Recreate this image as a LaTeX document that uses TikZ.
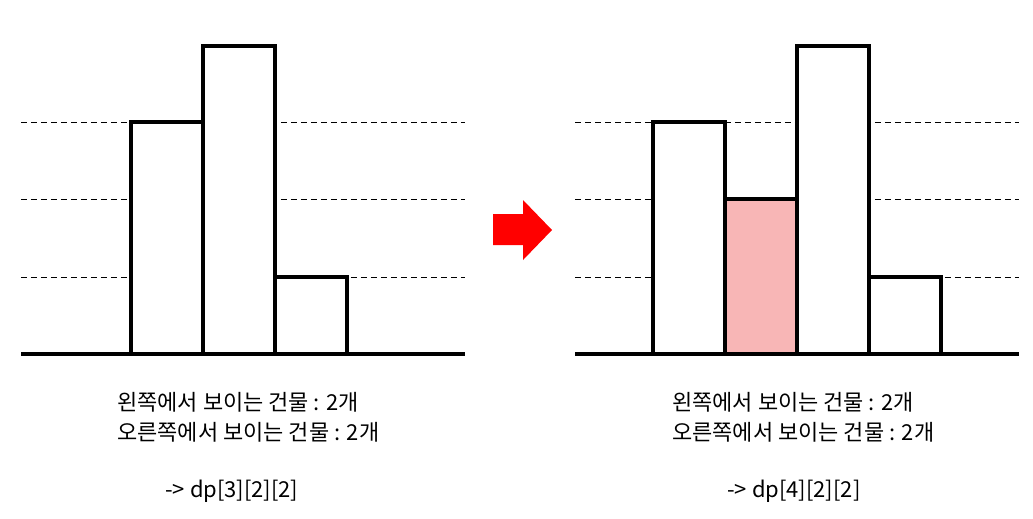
\documentclass[tikz,border=0pt]{standalone}
\usepackage{fontspec}
\setmainfont{Noto Sans CJK KR}
\definecolor{pinkfill}{HTML}{F8B6B6}
\tikzset{
  bldg/.style={draw=black,line width=2.3pt,fill=white},
  guide/.style={dash pattern=on 0.12cm off 0.08cm,line width=0.5pt},
  ground/.style={line width=2.6pt},
  caption/.style={anchor=west,inner sep=0pt,align=left,font=\fontsize{12.5}{17}\selectfont},
}
\begin{document}
\begin{tikzpicture}[x=0.02cm,y=-0.02cm]
\useasboundingbox (0,0) rectangle (1033,518);
% left skyline
\foreach \y in {122,199,277}\draw[guide] (21,\y) -- (465,\y);
\draw[bldg] (131,354) rectangle (203,122);
\draw[bldg] (203,354) rectangle (275,46);
\draw[bldg] (275,354) rectangle (347,277);
\draw[ground] (21,354) -- (465,354);
\node[caption] (lview) at (117,417) {왼쪽에서 보이는 건물 : 2개\\오른쪽에서 보이는 건물 : 2개};
\node[caption] (lstate) at (165,491) {-> dp[3][2][2]};
% arrow
\fill[red] (493,214) -- (523,214) -- (523,200) -- (552,230) -- (523,260) -- (523,245) -- (493,245) -- cycle;
% right skyline
\foreach \y in {122,199,277}\draw[guide] (575,\y) -- (1019,\y);
\draw[bldg] (653,354) rectangle (725,122);
\draw[bldg,fill=pinkfill] (725,354) rectangle (797,199);
\draw[bldg] (797,354) rectangle (869,46);
\draw[bldg] (869,354) rectangle (941,277);
\draw[ground] (575,354) -- (1019,354);
\node[caption] (rview) at (672,417) {왼쪽에서 보이는 건물 : 2개\\오른쪽에서 보이는 건물 : 2개};
\node[caption] (rstate) at (727,491) {-> dp[4][2][2]};
\end{tikzpicture}
\end{document}
